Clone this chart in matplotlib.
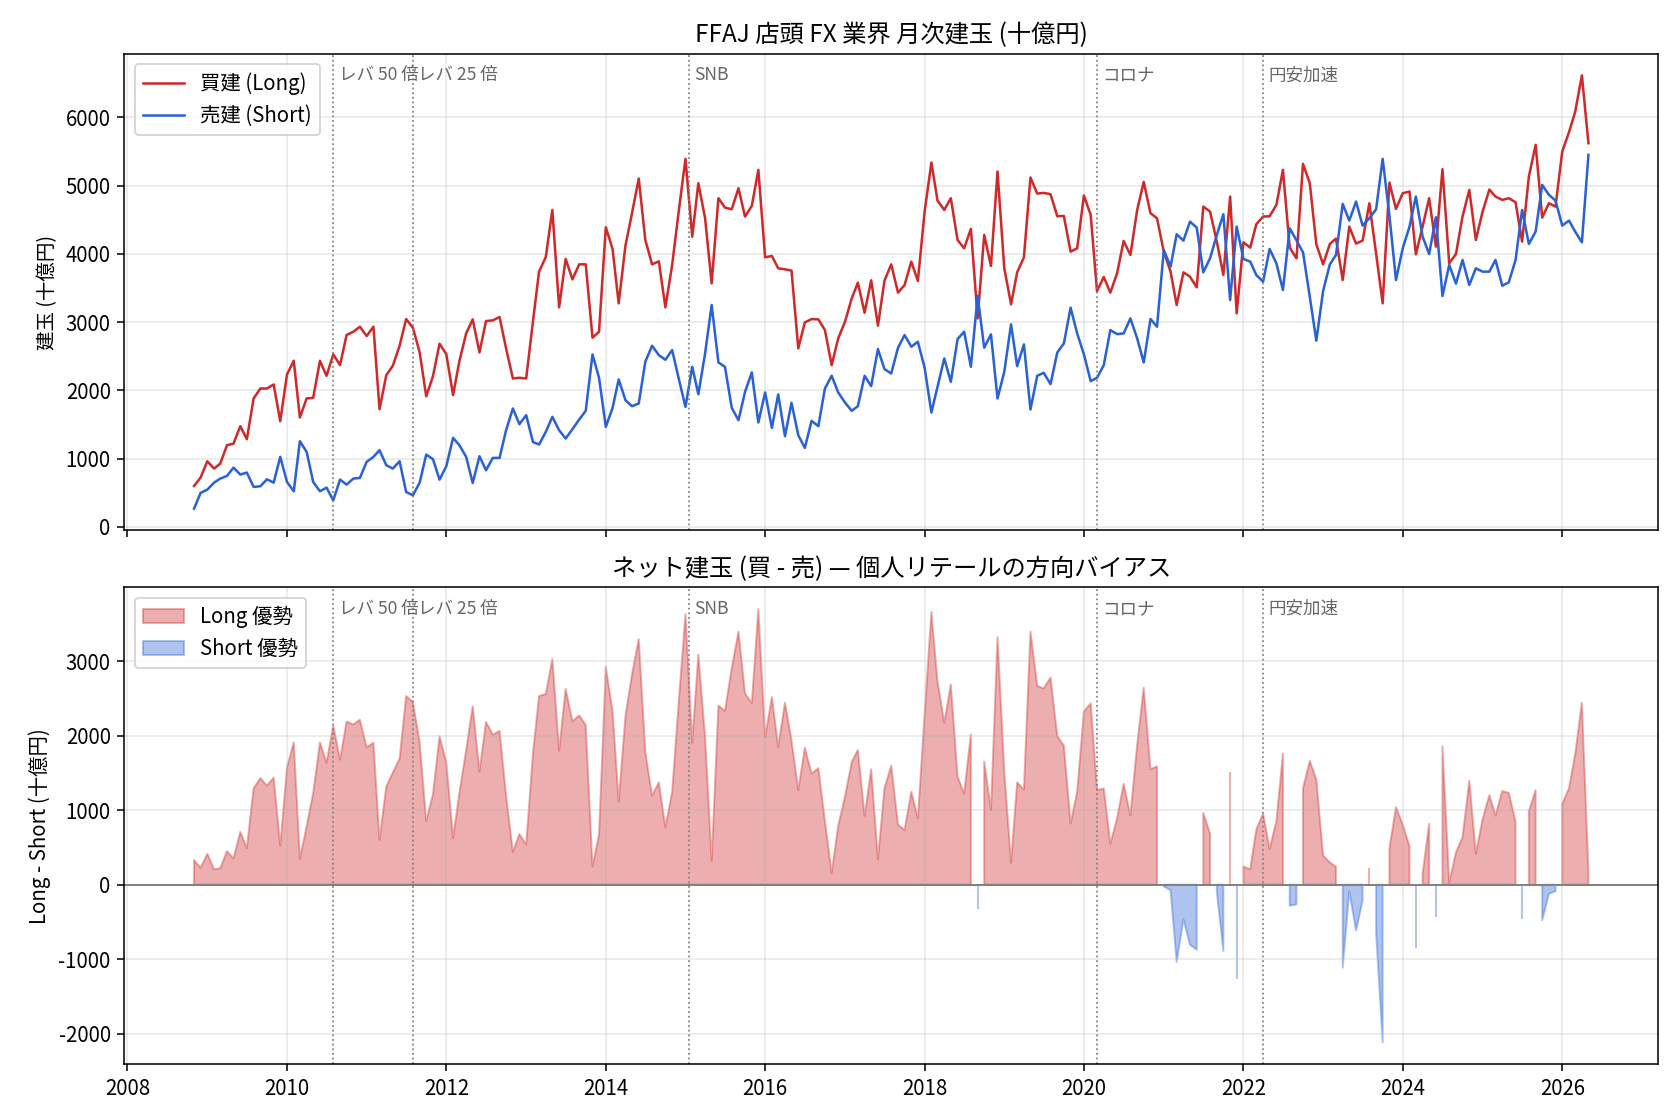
import numpy as np
import pandas as pd
import matplotlib
matplotlib.use("Agg")
import matplotlib.pyplot as plt
import matplotlib.dates as mdates

plt.rcParams['font.family'] = ['Noto Sans CJK JP', 'DejaVu Sans']
plt.rcParams['axes.unicode_minus'] = False

# 月次建玉 (十億円), 2008-11 .. 2026-05
start = '2008-11-01'

long_pos = [
    601, 724, 963, 856, 929, 1198, 1222, 1477, 1286, 1883, 2029, 2029, 2088, 1550, 2235, 2435, 1604, 1883,
    1892, 2435, 2215, 2528, 2372, 2812, 2861, 2934, 2797, 2934, 1726, 2225, 2362, 2655, 3046, 2919, 2557, 1915,
    2210, 2685, 2533, 1932, 2430, 2836, 3042, 2557, 3017, 3027, 3076, 2616, 2176, 2186, 2176, 3007, 3741, 3956,
    4645, 3218, 3927, 3628, 3848, 3848, 2773, 2861, 4391, 4073, 3276, 4122, 4597, 5105, 4205, 3848, 3892, 3218,
    3839, 4621, 5394, 4254, 5037, 4523, 3570, 4817, 4680, 4655, 4963, 4548, 4704, 5232, 3951, 3971, 3790, 3775,
    3756, 2616, 2998, 3046, 3042, 2885, 2372, 2763, 3007, 3350, 3579, 3139, 3614, 2949, 3609, 3848, 3433, 3545,
    3888, 3604, 4621, 5340, 4782, 4645, 4817, 4205, 4083, 4367, 3056, 4279, 3824, 5208, 3790, 3262, 3731, 3951,
    5120, 4885, 4895, 4875, 4553, 4557, 4034, 4083, 4856, 4572, 3457, 3663, 3433, 3716, 4191, 3985, 4645, 5056,
    4597, 4523, 4034, 3741, 3252, 3731, 3667, 3511, 4694, 4621, 4181, 3692, 4841, 3130, 4171, 4093, 4435, 4548,
    4553, 4719, 5232, 4093, 3936, 5320, 5037, 4142, 3848, 4147, 4225, 3619, 4401, 4152, 4196, 4743, 4005, 3276,
    5046, 4660, 4890, 4914, 3995, 4401, 4817, 4108, 5242, 3863, 4000, 4548, 4939, 4205, 4621, 4944, 4841, 4792,
    4817, 4758, 4181, 5134, 5599, 4533, 4743, 4694, 5501, 5785, 6078, 6616, 5623,
]

short_pos = [
    269, 499, 548, 650, 709, 748, 870, 768, 797, 587, 597, 699, 650, 1027, 660, 523, 1257, 1100,
    660, 523, 577, 391, 694, 621, 709, 719, 954, 1027, 1125, 905, 856, 963, 513, 465, 650, 1061,
    993, 694, 890, 1306, 1198, 1027, 645, 1037, 831, 1012, 1012, 1418, 1736, 1506, 1638, 1247, 1208, 1394,
    1614, 1418, 1296, 1433, 1575, 1702, 2528, 2186, 1467, 1746, 2161, 1858, 1770, 1809, 2421, 2655, 2518, 2450,
    2592, 2176, 1760, 2347, 1946, 2543, 3252, 2411, 2347, 1746, 1565, 1980, 2264, 1531, 1971, 1452, 1941, 1330,
    1819, 1345, 1159, 1555, 1477, 2029, 2215, 1971, 1824, 1702, 1770, 2215, 2064, 2606, 2313, 2249, 2626, 2812,
    2641, 2714, 2333, 1677, 2054, 2469, 2127, 2753, 2861, 2347, 3389, 2626, 2822, 1883, 2274, 2968, 2357, 2675,
    1721, 2215, 2259, 2093, 2557, 2689, 3213, 2836, 2528, 2137, 2186, 2372, 2885, 2826, 2836, 3056, 2763, 2411,
    3046, 2934, 4059, 3814, 4289, 4196, 4474, 4386, 3731, 3936, 4279, 4582, 3325, 4401, 3927, 3888, 3692, 3594,
    4073, 3863, 3472, 4377, 4200, 4024, 3374, 2729, 3457, 3848, 3985, 4733, 4489, 4768, 4416, 4523, 4655, 5394,
    4560, 3619, 4083, 4401, 4841, 4254, 4000, 4538, 3384, 3839, 3565, 3912, 3545, 3790, 3741, 3741, 3912, 3535,
    3584, 3912, 4645, 4147, 4328, 5012, 4866, 4782, 4416, 4489, 4328, 4171, 5452,
]

event_dates = ['2010-08-01', '2011-08-01', '2015-01-15', '2020-03-01', '2022-04-01']
event_labels = ['レバ 50 倍', 'レバ 25 倍', 'SNB', 'コロナ', '円安加速']

dates = pd.date_range(start, periods=len(long_pos), freq='MS')
long_arr = np.array(long_pos, dtype=float)
short_arr = np.array(short_pos, dtype=float)
net = long_arr - short_arr

red = '#cf2a2a'
blue = '#2a62d6'

fig, (ax1, ax2) = plt.subplots(2, 1, figsize=(12, 8), dpi=140, sharex=True)
fig.subplots_adjust(left=0.074, right=0.987, top=0.952, bottom=0.05, hspace=0.12)

ax1.plot(dates, long_arr, color=red, lw=1.3, label='買建 (Long)')
ax1.plot(dates, short_arr, color=blue, lw=1.3, label='売建 (Short)')
ax1.set_title('FFAJ 店頭 FX 業界 月次建玉 (十億円)', fontsize=12.5)
ax1.set_ylabel('建玉 (十億円)', fontsize=10)
ax1.legend(loc='upper left', fontsize=10.5)

ax2.fill_between(dates, net, 0, where=net >= 0, color=red, alpha=0.38, label='Long 優勢')
ax2.fill_between(dates, net, 0, where=net < 0, color=blue, alpha=0.38, label='Short 優勢')
ax2.axhline(0, color='gray', lw=1)
ax2.set_title('ネット建玉 (買 - 売) — 個人リテールの方向バイアス', fontsize=12.5)
ax2.set_ylabel('Long - Short (十億円)', fontsize=10.5)
ax2.legend(loc='upper left', fontsize=10.5)

for ax in (ax1, ax2):
    ax.grid(True, alpha=0.3)
    ax.xaxis.set_major_locator(mdates.YearLocator(2))
    ax.xaxis.set_major_formatter(mdates.DateFormatter('%Y'))
    ax.tick_params(labelsize=10.5)
    for d, lab in zip(event_dates, event_labels):
        d = pd.Timestamp(d)
        ax.axvline(d, color='gray', ls=':', lw=0.9)
        ax.text(d + pd.Timedelta(days=25), 0.955, lab, transform=ax.get_xaxis_transform(),
                fontsize=9, color='#666666', va='center', ha='left')

fig.savefig('out.png', dpi=140)
